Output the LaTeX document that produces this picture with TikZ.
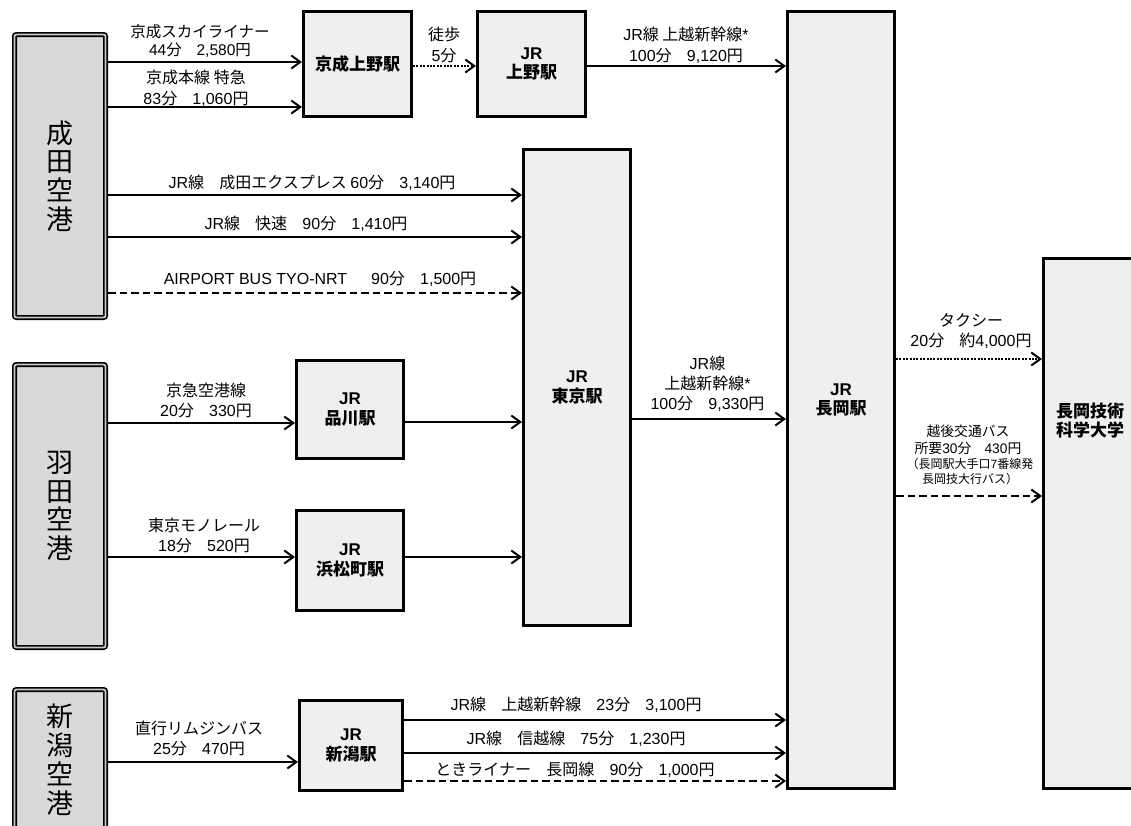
\documentclass[tikz,border=0pt]{standalone}
\usepackage{fontspec}
\setmainfont{Noto Sans CJK JP}
\newfontfamily\latf{Liberation Sans}
\newcommand\ltn[1]{{\latf #1}}
\newcommand\gp{\hspace{0.95em}}
\usetikzlibrary{arrows.meta}
\definecolor{stnfill}{HTML}{EEEFEF}
\definecolor{aptfill}{HTML}{D9D9D9}
\definecolor{aptgap}{HTML}{C8C8C8}
\begin{document}
\begin{tikzpicture}[x=1pt,y=-1pt,
 stn/.style={draw,line width=3pt,fill=stnfill,inner sep=0pt,align=center,font=\bfseries\fontsize{17}{19.5}\selectfont},
 stntext/.style={inner sep=0pt,align=center,font=\bfseries\fontsize{17}{18.5}\selectfont},
 apt/.style={draw,line width=1.6pt,double=aptgap,double distance=1.8pt,fill=aptfill,rounded corners=2pt,inner sep=0pt,outer sep=2.5pt,align=center,font=\fontsize{27}{28.7}\selectfont},
 apttext/.style={inner sep=0pt,align=center,font=\fontsize{27}{29}\selectfont},
 lbl/.style={inner sep=0pt,align=center,font=\fontsize{16}{20.5}\selectfont},
 arr/.style={line width=2pt,-{Straight Barb[length=9pt,width=13pt]}},
 dotarr/.style={arr,dash pattern=on 2pt off 1.4pt},
 dasharr/.style={arr,dash pattern=on 7.5pt off 4pt},
]
\useasboundingbox (0,0) rectangle (1131,825);
\clip (0,0) rectangle (1131,825);
\fill[white] (0,0) rectangle (1131,825);

% airports
\node[apt,minimum width=91pt,minimum height=283pt] (narita) at (60,176) {成\\田\\空\\港};
\node[apt,minimum width=91pt,minimum height=283pt] (haneda) at (60,506) {羽\\田\\空\\港};
\node[apt,minimum width=91pt,minimum height=283pt] (niigata) at (60,831) {};
\node[apttext] (niigatatxt) at (60,760) {新\\潟\\空\\港};

% stations
\node[stn,minimum width=108pt,minimum height=105pt] (ku) at (357.5,64) {京成上野駅};
\node[stn,minimum width=108pt,minimum height=105pt] (jru) at (531.5,64) {\ltn{JR}\\上野駅};
\node[stn,minimum width=107pt,minimum height=476pt] (tokyo) at (577,387.5) {\ltn{JR}\\東京駅};
\node[stn,minimum width=107pt,minimum height=777pt] (nagaoka) at (841,400) {\ltn{JR}\\長岡駅};
\node[stn,minimum width=110pt,minimum height=530pt] (univ) at (1098.5,523.5) {};
\node[stntext] (univtxt) at (1090,420.5) {長岡技術\\科学大学};
\node[stn,minimum width=107pt,minimum height=98pt] (shina) at (350,409.5) {\ltn{JR}\\品川駅};
\node[stn,minimum width=107pt,minimum height=100pt] (hama) at (350,560.5) {\ltn{JR}\\浜松町駅};
\node[stn,minimum width=103pt,minimum height=90pt] (niist) at (351,745.5) {\ltn{JR}\\新潟駅};

% connectors
\draw[arr] (narita.east |- 0,62) -- (ku.west |- 0,62);
\draw[arr] (narita.east |- 0,107) -- (ku.west |- 0,107);
\draw[dotarr] (ku.east |- 0,66) -- (jru.west |- 0,66);
\draw[arr] (jru.east |- 0,66) -- (nagaoka.west |- 0,66);
\draw[arr] (narita.east |- 0,195) -- (tokyo.west |- 0,195);
\draw[arr] (narita.east |- 0,237) -- (tokyo.west |- 0,237);
\draw[dasharr] (narita.east |- 0,293) -- (tokyo.west |- 0,293);
\draw[arr] (haneda.east |- 0,423) -- (shina.west |- 0,423);
\draw[arr] (shina.east |- 0,422) -- (tokyo.west |- 0,422);
\draw[arr] (haneda.east |- 0,557) -- (hama.west |- 0,557);
\draw[arr] (hama.east |- 0,557) -- (tokyo.west |- 0,557);
\draw[arr] (tokyo.east |- 0,419) -- (nagaoka.west |- 0,419);
\draw[dotarr] (nagaoka.east |- 0,359) -- (univ.west |- 0,359);
\draw[dasharr] (nagaoka.east |- 0,496) -- (univ.west |- 0,496);
\draw[arr] (niigata.east |- 0,762) -- (niist.west |- 0,762);
\draw[arr] (niist.east |- 0,720) -- (nagaoka.west |- 0,720);
\draw[arr] (niist.east |- 0,753) -- (nagaoka.west |- 0,753);
\draw[dasharr] (niist.east |- 0,781) -- (nagaoka.west |- 0,781);

% labels
\node[lbl,font=\fontsize{15.5}{18.5}\selectfont] (l1) at (200,41) {京成スカイライナー\\\ltn{44}分\gp\ltn{2,580}円};
\node[lbl] (l2) at (196,88.5) {京成本線 特急\\\ltn{83}分\gp\ltn{1,060}円};
\node[lbl] (l3) at (444,45) {徒歩\\\ltn{5}分};
\node[lbl] (l4) at (686,45.5) {\ltn{JR}線 上越新幹線\ltn{*}\\\ltn{100}分\gp\ltn{9,120}円};
\node[lbl] (l5) at (312,183) {\ltn{JR}線\gp 成田エクスプレス \ltn{60}分\gp\ltn{3,140}円};
\node[lbl] (l6) at (306,224) {\ltn{JR}線\gp 快速\gp\ltn{90}分\gp\ltn{1,410}円};
\node[lbl] (l7) at (320,278.5) {\ltn{AIRPORT BUS TYO-NRT}\hspace{1.5em}\ltn{90}分\gp\ltn{1,500}円};
\node[lbl] (l8) at (206,400.5) {京急空港線\\\ltn{20}分\gp\ltn{330}円};
\node[lbl] (l9) at (204,535.5) {東京モノレール\\\ltn{18}分\gp\ltn{520}円};
\node[lbl,font=\fontsize{16}{20}\selectfont] (l10) at (707.5,384) {\ltn{JR}線\\上越新幹線\ltn{*}\\\ltn{100}分\gp\ltn{9,330}円};
\node[lbl] (l11) at (971,331) {タクシー\\\ltn{20}分\gp 約\ltn{4,000}円};
\node[lbl,font=\fontsize{13.8}{17}\selectfont] (l12) at (968,440) {越後交通バス\\所要\ltn{30}分\gp\ltn{430}円};
\node[lbl,font=\fontsize{12}{15}\selectfont] (l13) at (970,471.5) {（長岡駅大手口\ltn{7}番線発\\長岡技大行バス）};
\node[lbl] (l14) at (199,738.5) {直行リムジンバス\\\ltn{25}分\gp\ltn{470}円};
\node[lbl] (l15) at (576,705) {\ltn{JR}線\gp 上越新幹線\gp\ltn{23}分\gp\ltn{3,100}円};
\node[lbl] (l16) at (576,738.5) {\ltn{JR}線\gp 信越線\gp\ltn{75}分\gp\ltn{1,230}円};
\node[lbl] (l17) at (575,770) {ときライナー\gp 長岡線\gp\ltn{90}分\gp\ltn{1,000}円};
\end{tikzpicture}
\end{document}
